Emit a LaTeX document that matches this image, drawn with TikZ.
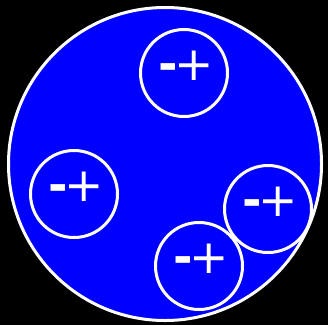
\documentclass[tikz,border=0pt]{standalone}
\usepackage{fontspec}
\setmainfont{DejaVu Sans}
\begin{document}
\begin{tikzpicture}[x=1pt,y=-1pt,
  big/.style={draw=white,fill=blue,line width=3pt},
  small/.style={draw=white,line width=3pt,circle,minimum size=87pt,inner sep=0pt},
  lbl/.style={text=white,font=\fontsize{47}{47}\selectfont,inner sep=0pt}]
\fill[black] (0,0) rectangle (328,325);
\useasboundingbox (0,0) rectangle (328,325);
\draw[big] (165,164) circle (156.5);
\node[small] (c1) at (184,73) {};
\node[small] (c2) at (74,194) {};
\node[small] (c3) at (268,209) {};
\node[small] (c4) at (199,266) {};
\node[lbl] (t1) at ([xshift=2pt,yshift=7pt]c1.center) {{\bfseries -}\kern-4pt+};
\node[lbl] (t2) at ([xshift=2pt,yshift=7pt]c2.center) {{\bfseries -}\kern-4pt+};
\node[lbl] (t3) at ([xshift=2pt,yshift=7pt]c3.center) {{\bfseries -}\kern-4pt+};
\node[lbl] (t4) at ([xshift=2pt,yshift=7pt]c4.center) {{\bfseries -}\kern-4pt+};
\end{tikzpicture}
\end{document}
